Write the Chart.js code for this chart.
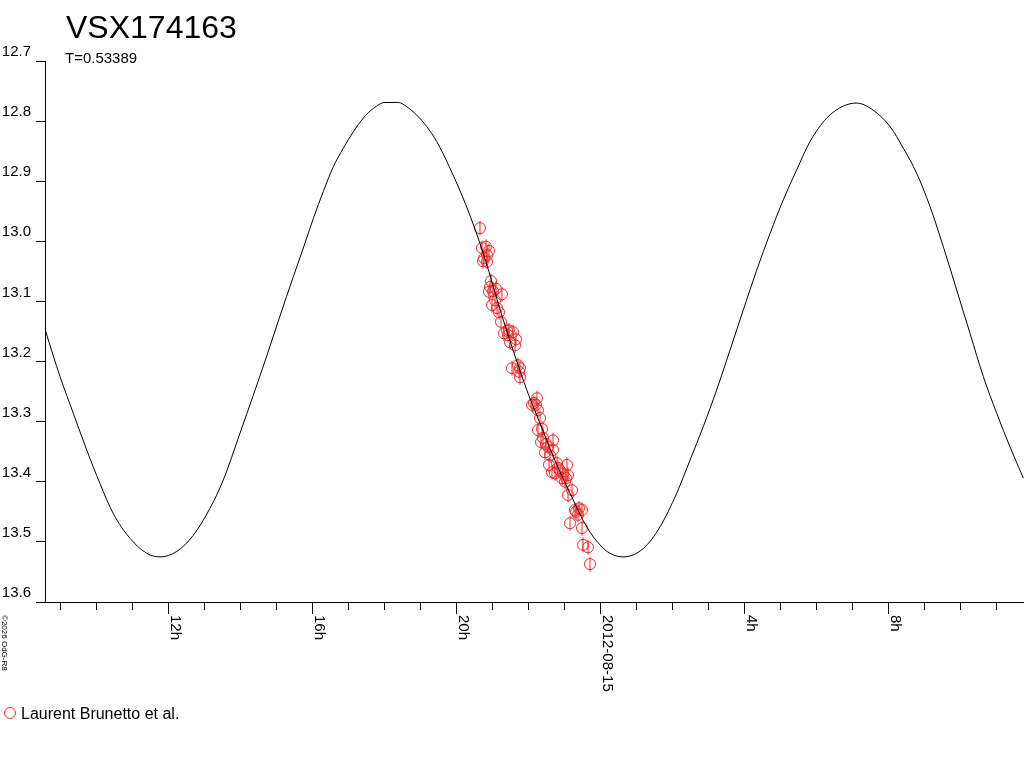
<!DOCTYPE html>
<html>
<head>
<meta charset="utf-8">
<title>VSX174163</title>
<script src="https://cdn.jsdelivr.net/npm/chart.js@4.4.0/dist/chart.umd.min.js"></script>
<style>
  body { margin: 0; background: #fff; }
  canvas { display: block; }
</style>
</head>
<body>
<canvas id="lightCurve" width="1024" height="768"></canvas>
<script>
// hours relative to 2012-08-15 0h, magnitudes
const curveHours = [-15.411, -15.008, -14.639, -14.267, -13.897, -13.528, -13.064, -12.6, -12.231, -11.767,
  -11.306, -10.842, -10.472, -10.008, -9.639, -9.267, -8.897, -8.528, -8.203, -7.972,
  -7.694, -7.417, -7.139, -6.861, -6.583, -6.306, -5.981, -5.611, -5.378, -5.1,
  -4.822, -4.544, -4.194, -3.711, -3.25, -2.694, -2.044, -1.675, -1.306, -0.842,
  -0.378, -0.008, 0.269, 0.639, 1.194, 1.658, 2.122, 2.492, 2.861, 3.233,
  3.603, 3.972, 4.344, 4.714, 5.083, 5.456, 5.825, 6.289, 6.75, 7.122,
  7.583, 8.047, 8.417, 8.789, 9.158, 9.528, 9.9, 10.269, 10.639, 11.011,
  11.381, 11.75];
const curveMags = [13.149, 13.225, 13.286, 13.347, 13.403, 13.453, 13.494, 13.519, 13.525, 13.516,
  13.489, 13.444, 13.397, 13.319, 13.256, 13.191, 13.124, 13.059, 13.003, 12.962,
  12.917, 12.876, 12.845, 12.818, 12.795, 12.779, 12.769, 12.769, 12.776, 12.790,
  12.809, 12.834, 12.876, 12.943, 13.020, 13.131, 13.247, 13.303, 13.358, 13.419,
  13.475, 13.505, 13.519, 13.525, 13.511, 13.475, 13.419, 13.364, 13.308, 13.247,
  13.181, 13.114, 13.048, 12.987, 12.931, 12.881, 12.834, 12.795, 12.775, 12.770,
  12.782, 12.809, 12.845, 12.887, 12.942, 13.009, 13.081, 13.153, 13.225, 13.286,
  13.342, 13.394];

const obsHours = [-3.342, -3.286, -3.175, -3.092, -3.231, -3.258, -3.147, -3.147, -3.036, -3.064,
  -2.981, -3.092, -2.897, -2.731, -3.008, -2.869, -2.814, -2.925, -2.758, -2.675,
  -2.536, -2.425, -2.564, -2.342, -2.592, -2.508, -2.369, -2.453, -2.286, -2.231,
  -2.231, -2.258, -1.758, -1.842, -1.897, -1.731, -1.786, -1.675, -1.731, -1.619,
  -1.592, -1.647, -1.314, -1.453, -1.314, -1.536, -1.508, -1.397, -1.425, -1.203,
  -1.342, -1.258, -1.119, -0.925, -1.064, -0.897, -0.981, -1.175, -1.036, -0.953,
  -0.786, -0.897, -0.703, -0.508, -0.619, -0.675, -0.592, -0.842, -0.508, -0.481,
  -0.342, -0.286];
const obsMags = [12.978, 13.011, 13.009, 13.016, 13.028, 13.033, 13.034, 13.023, 13.066, 13.076,
  13.083, 13.084, 13.079, 13.088, 13.106, 13.111, 13.118, 13.098, 13.134, 13.153,
  13.148, 13.151, 13.156, 13.163, 13.149, 13.168, 13.173, 13.211, 13.206, 13.211,
  13.226, 13.217, 13.261, 13.269, 13.272, 13.281, 13.272, 13.294, 13.314, 13.312,
  13.327, 13.334, 13.331, 13.342, 13.347, 13.351, 13.337, 13.356, 13.372, 13.369,
  13.384, 13.386, 13.381, 13.372, 13.394, 13.389, 13.400, 13.377, 13.387, 13.394,
  13.414, 13.422, 13.447, 13.447, 13.455, 13.450, 13.444, 13.469, 13.477, 13.505,
  13.509, 13.537];

const tickHours = [-12, -8, -4, 0, 4, 8];
const tickLabels = ["12h", "16h", "20h", "2012-08-15", "4h", "8h"];

const starName = "VSX174163";
const periodText = "T=0.53389";
const observerName = "Laurent Brunetto et al.";

const red = "rgb(240, 40, 40)";
const font = '"Liberation Sans", Arial, sans-serif';

const curvePoints = curveHours.map((h, i) => ({ x: h, y: curveMags[i] }));
const obsPoints = obsHours.map((h, i) => ({ x: h, y: obsMags[i] }));

// title, rotated hour labels, big ticks and the legend
const decorations = {
  id: "decorations",
  afterDraw(chart) {
    const ctx = chart.ctx;
    const xScale = chart.scales.x;
    const bottom = chart.chartArea.bottom;
    ctx.save();
    ctx.fillStyle = "#000";
    ctx.strokeStyle = "#000";
    ctx.lineWidth = 1;

    tickHours.forEach(function(h, i) {
      const px = Math.round(xScale.getPixelForValue(h)) + 0.5;
      ctx.beginPath();
      ctx.moveTo(px, bottom);
      ctx.lineTo(px, bottom + 12);
      ctx.stroke();
      ctx.save();
      ctx.translate(px - 0.5, bottom + 13);
      ctx.rotate(Math.PI / 2);
      ctx.font = "15px " + font;
      ctx.textAlign = "left";
      ctx.textBaseline = "alphabetic";
      ctx.fillText(tickLabels[i], 0, -3);
      ctx.restore();
    });

    ctx.textAlign = "left";
    ctx.textBaseline = "alphabetic";
    ctx.font = "32px " + font;
    ctx.fillText(starName, 66, 38);
    ctx.font = "15px " + font;
    ctx.fillText(periodText, 65, 63);

    // small credit line on the left
    ctx.save();
    ctx.translate(1, 615);
    ctx.rotate(Math.PI / 2);
    ctx.font = "8px " + font;
    ctx.fillText("\u00a92026 OdG-R8", 0, -1);
    ctx.restore();

    ctx.strokeStyle = red;
    ctx.beginPath();
    ctx.arc(10, 713, 5.5, 0, Math.PI * 2);
    ctx.stroke();
    ctx.fillStyle = "#000";
    ctx.font = "16px " + font;
    ctx.fillText(observerName, 21, 719);
    ctx.restore();
  }
};

const ctx = document.getElementById("lightCurve").getContext("2d");

const lightCurve = new Chart(ctx, {
  type: "scatter",
  data: {
    datasets: [
      {
        label: "fit",
        data: curvePoints,
        showLine: true,
        borderColor: "#000",
        borderWidth: 1,
        pointRadius: 0,
        cubicInterpolationMode: "monotone",
        fill: false
      },
      {
        label: observerName,
        data: obsPoints,
        pointStyle: "circle",
        pointRadius: 5.5,
        borderColor: red,
        borderWidth: 1,
        backgroundColor: "rgba(0,0,0,0)"
      },
      {
        label: "error",
        data: obsPoints,
        pointStyle: "line",
        rotation: 90,
        pointRadius: 7.5,
        borderColor: red,
        borderWidth: 1
      }
    ]
  },
  options: {
    responsive: false,
    animation: false,
    devicePixelRatio: 1,
    layout: { autoPadding: false, padding: { top: 61, left: 0, right: 0, bottom: 0 } },
    plugins: {
      legend: { display: false },
      tooltip: { enabled: false }
    },
    scales: {
      x: {
        type: "linear",
        position: "bottom",
        min: -15.425,
        max: 11.769,
        // one small tick every hour
        afterBuildTicks: function(scale) {
          const hours = [];
          for (let h = Math.ceil(scale.min); h <= Math.floor(scale.max); h++) {
            hours.push({ value: h });
          }
          scale.ticks = hours;
        },
        afterFit: function(scale) { scale.height = 166; },
        ticks: { display: false },
        grid: { drawOnChartArea: false, tickLength: 8, color: "#000", tickColor: "#000" },
        border: { color: "#000", width: 1 }
      },
      y: {
        reverse: true,
        min: 12.7,
        max: 13.6,
        afterFit: function(scale) { scale.width = 45; },
        ticks: {
          stepSize: 0.1,
          color: "#000",
          padding: 5,
          labelOffset: -9,
          font: { family: font, size: 15 },
          callback: function(v) { return Number(v).toFixed(1); }
        },
        grid: { drawOnChartArea: false, tickLength: 9, color: "#000", tickColor: "#000" },
        border: { color: "#000", width: 1 }
      }
    }
  },
  plugins: [decorations]
});
</script>
</body>
</html>
